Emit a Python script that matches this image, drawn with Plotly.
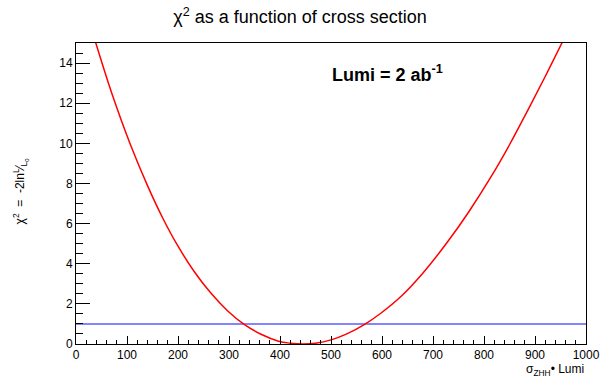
import plotly.graph_objects as go

# red chi2 curve
xs = [38, 70, 107, 141.5, 170, 198, 231, 264, 297, 329, 365, 397, 420, 445, 470, 500, 530, 566, 597, 636, 680, 728, 770, 813, 850, 885, 920, 956]
chi2 = [15.07, 12.51, 9.92, 7.82, 6.28, 4.96, 3.64, 2.55, 1.66, 0.99, 0.46, 0.14, 0.04, 0.0, 0.04, 0.205, 0.49, 0.98, 1.52, 2.34, 3.53, 5.07, 6.58, 8.30, 9.93, 11.61, 13.33, 15.17]

# blue reference line at chi2 = 1
ref_x = [0, 1000]
ref_y = [1, 1]

FONT = "Liberation Sans, Arial, Helvetica, sans-serif"

fig = go.Figure()
fig.add_trace(go.Scatter(x=ref_x, y=ref_y, mode="lines",
                         line=dict(color="#5c5cff", width=1.5), showlegend=False))
fig.add_trace(go.Scatter(x=xs, y=chi2, mode="lines",
                         line=dict(color="#ff0000", width=1.5, shape="spline", smoothing=1.0),
                         showlegend=False))

fig.update_layout(
    width=600, height=378,
    margin=dict(l=76, r=14, t=43, b=34, autoexpand=False),
    paper_bgcolor="white", plot_bgcolor="white",
    font=dict(family=FONT, color="black", size=12),
    title=dict(text="χ<sup>2</sup> as a function of cross section",
               x=0.5, xanchor="center", y=0.955, yanchor="middle", yref="container",
               font=dict(size=18, family=FONT)),
    xaxis=dict(range=[0, 1000], showgrid=False, zeroline=False, automargin=False,
               showline=True, linecolor="black", linewidth=1, mirror=True,
               ticks="inside", ticklen=8, tickcolor="black", dtick=100, tick0=0,
               minor=dict(ticks="inside", ticklen=4, dtick=20, tickcolor="black"),
               tickfont=dict(size=12), ticklabeloverflow="allow"),
    yaxis=dict(range=[0, 15], showgrid=False, zeroline=False, automargin=False,
               showline=True, linecolor="black", linewidth=1, mirror=True,
               ticks="inside", ticklen=14, tickcolor="black", dtick=2, tick0=0,
               minor=dict(ticks="inside", ticklen=7, dtick=0.5, tickcolor="black"),
               tickfont=dict(size=12)),
    annotations=[
        dict(text="<b>Lumi = 2 ab<sup>-1</sup></b>", x=0.61, y=0.90, xref="paper", yref="paper",
             showarrow=False, font=dict(size=18, family=FONT), xanchor="center", yanchor="middle"),
        dict(text="σ<sub>ZHH</sub>• Lumi", x=1.0, y=-0.053, xref="paper", yref="paper",
             showarrow=False, font=dict(size=12, family=FONT), xanchor="right", yanchor="top"),
        dict(text="χ<sup>2</sup>  =  -2ln<sup>L</sup>⁄<sub>L<sub>0</sub></sub>", x=-0.108, y=0.51,
             xref="paper", yref="paper", textangle=-90,
             showarrow=False, font=dict(size=12, family=FONT), xanchor="center", yanchor="middle"),
    ],
)

fig.write_html("out.html")
